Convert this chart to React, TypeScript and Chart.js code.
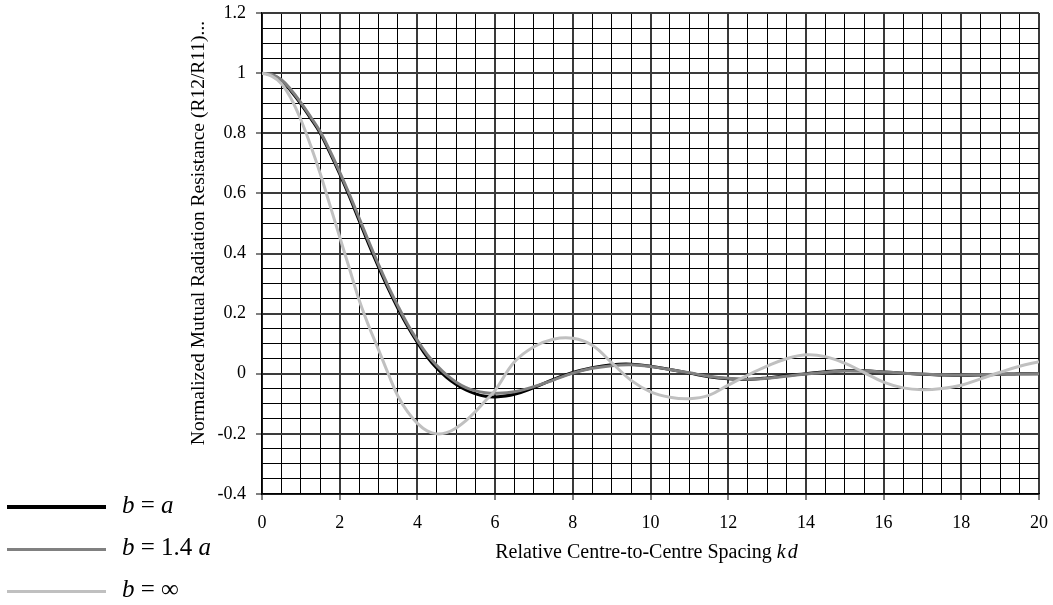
import React, { useEffect, useRef } from "react";
import { Chart, registerables } from "chart.js";

Chart.register(...registerables);

// Relative centre-to-centre spacing kd
const kdValues = [
  0, 0.25, 0.5, 0.75, 1, 1.25, 1.5, 1.75, 2, 2.25, 2.5, 2.75, 3, 3.25, 3.5, 3.75,
  4, 4.25, 4.5, 4.75, 5, 5.25, 5.5, 5.75, 6,
  6.5, 7, 7.5, 8, 8.5, 9, 9.5, 10, 10.5, 11, 11.5, 12, 12.5, 13, 13.5, 14, 14.5,
  15, 15.5, 16, 16.5, 17, 17.5, 18, 18.5, 19, 19.5, 20,
];

// Normalized mutual radiation resistance R12/R11 for b = a
const ratioBEqualsA = [
  1.0, 0.995, 0.975, 0.94, 0.898, 0.85, 0.8, 0.735, 0.665, 0.59, 0.51, 0.43,
  0.355, 0.283, 0.217, 0.157, 0.104, 0.056, 0.018, -0.012, -0.036, -0.054,
  -0.067, -0.075, -0.077,
  -0.068, -0.046, -0.019, 0.004, 0.02, 0.03, 0.032, 0.025, 0.014, 0.002, -0.01,
  -0.017, -0.019, -0.014, -0.006, 0.0, 0.007, 0.011, 0.01, 0.006, 0.002, -0.002,
  -0.004, -0.005, -0.004, -0.002, 0.0, 0.0,
];

// b = 1.4 a
const ratioB14A = [
  1.0, 0.996, 0.978, 0.944, 0.902, 0.855, 0.805, 0.741, 0.671, 0.597, 0.518,
  0.439, 0.363, 0.291, 0.225, 0.164, 0.111, 0.064, 0.027, -0.004, -0.028,
  -0.046, -0.057, -0.063, -0.065,
  -0.06, -0.043, -0.021, 0.002, 0.018, 0.027, 0.03, 0.024, 0.014, 0.003, -0.008,
  -0.015, -0.018, -0.015, -0.008, -0.001, 0.005, 0.009, 0.009, 0.006, 0.002,
  -0.001, -0.003, -0.004, -0.003, -0.002, -0.001, 0.0,
];

// b = infinity
const ratioBInfinite = [
  1.0, 0.99, 0.965, 0.915, 0.845, 0.76, 0.665, 0.56, 0.455, 0.35, 0.245, 0.158,
  0.08, 0.0, -0.075, -0.127, -0.165, -0.19, -0.2, -0.196, -0.18, -0.156, -0.125,
  -0.09, -0.055,
  0.04, 0.09, 0.115, 0.118, 0.095, 0.037, -0.022, -0.06, -0.078, -0.083, -0.072,
  -0.038, -0.005, 0.025, 0.05, 0.063, 0.057, 0.035, 0.004, -0.028, -0.047,
  -0.053, -0.049, -0.038, -0.017, 0.005, 0.025, 0.04,
];

const SERIF = "'Liberation Serif', 'Times New Roman', serif";
const yAxisTitle = "Normalized Mutual Radiation Resistance (R12/R11)...";
const xAxisTitle = "Relative Centre-to-Centre Spacing ";
const xAxisTitleItalic = "kd";

const W = 1053;
const H = 605;
const PLOT_LEFT = 262;
const PLOT_RIGHT = 1039;
const PLOT_TOP = 13;
const PLOT_BOTTOM = 494;

const toPoints = (ys: number[]) => kdValues.map((x, i) => ({ x, y: ys[i] }));

const isMajorY = (v: number) => Math.round(v * 20) % 4 === 0;
const isMajorX = (v: number) => Math.round(v * 2) % 4 === 0;

const axisTitles = {
  id: "axisTitles",
  afterDraw(chart: any) {
    const { ctx, chartArea } = chart;
    ctx.save();
    ctx.fillStyle = "#000";
    // vertical title
    ctx.font = `19.5px ${SERIF}`;
    ctx.textAlign = "center";
    ctx.textBaseline = "middle";
    ctx.translate(199, 233);
    ctx.rotate(-Math.PI / 2);
    ctx.fillText(yAxisTitle, 0, 0);
    ctx.restore();

    // horizontal title with italic kd
    ctx.save();
    ctx.fillStyle = "#000";
    ctx.textBaseline = "alphabetic";
    ctx.textAlign = "left";
    ctx.font = `20px ${SERIF}`;
    const w1 = ctx.measureText(xAxisTitle).width;
    ctx.font = `italic 20px ${SERIF}`;
    const kdChars = xAxisTitleItalic.split("");
    const letterGap = 2;
    let w2 = 0;
    kdChars.forEach((c, i) => {
      w2 += ctx.measureText(c).width + (i < kdChars.length - 1 ? letterGap : 0);
    });
    const cx = (chartArea.left + chartArea.right) / 2 - 4;
    let x = cx - (w1 + w2) / 2;
    ctx.font = `20px ${SERIF}`;
    ctx.fillText(xAxisTitle, x, 558);
    x += w1;
    ctx.font = `italic 20px ${SERIF}`;
    kdChars.forEach((c) => {
      ctx.fillText(c, x, 558);
      x += ctx.measureText(c).width + letterGap;
    });
    ctx.restore();
  },
};

const legendItems = [
  { color: "#000000", width: 4, top: 507, parts: [["b", true], [" = ", false], ["a", true]] },
  { color: "#808080", width: 3, top: 549, parts: [["b", true], [" = 1.4 ", false], ["a", true]] },
  { color: "#c0c0c0", width: 3, top: 591, parts: [["b", true], [" = ∞", false]] },
];

export default function App() {
  const canvasRef = useRef<HTMLCanvasElement | null>(null);

  useEffect(() => {
    if (!canvasRef.current) return;
    const chart = new Chart(canvasRef.current, {
      type: "line",
      data: {
        datasets: [
          {
            label: "b = a",
            data: toPoints(ratioBEqualsA),
            borderColor: "#000000",
            borderWidth: 3,
            pointRadius: 0,
            tension: 0.4,
            order: 3,
          },
          {
            label: "b = 1.4 a",
            data: toPoints(ratioB14A),
            borderColor: "#808080",
            borderWidth: 3,
            pointRadius: 0,
            tension: 0.4,
            order: 2,
          },
          {
            label: "b = ∞",
            data: toPoints(ratioBInfinite),
            borderColor: "#c0c0c0",
            borderWidth: 3,
            pointRadius: 0,
            tension: 0.4,
            order: 1,
          },
        ],
      },
      options: {
        animation: false,
        responsive: false,
        events: [],
        layout: { padding: { left: 0, right: W - PLOT_RIGHT, top: PLOT_TOP, bottom: 0 } },
        plugins: { legend: { display: false }, tooltip: { enabled: false } },
        scales: {
          x: {
            type: "linear",
            min: 0,
            max: 20,
            afterFit: (s: any) => {
              s.height = H - PLOT_BOTTOM;
              s.paddingLeft = 0;
              s.paddingRight = 0;
            },
            border: { display: true, color: "#000", width: 1.5 },
            grid: {
              color: (c: any) => (isMajorX(c.tick.value) ? "#3a3a3a" : "#000"),
              lineWidth: (c: any) => (isMajorX(c.tick.value) ? 2 : 1),
              tickColor: (c: any) => (isMajorX(c.tick.value) ? "#000" : "rgba(0,0,0,0)"),
              tickWidth: 1,
              tickLength: 6,
            },
            ticks: {
              stepSize: 0.5,
              autoSkip: false,
              maxRotation: 0,
              padding: 12,
              color: "#000",
              font: { family: SERIF, size: 18 },
              callback: (v: any) => (isMajorX(Number(v)) ? String(Math.round(Number(v))) : ""),
            },
          },
          y: {
            type: "linear",
            min: -0.4,
            max: 1.2,
            afterFit: (s: any) => {
              s.width = PLOT_LEFT;
              s.paddingTop = 0;
              s.paddingBottom = 0;
            },
            border: { display: true, color: "#000", width: 1.5 },
            grid: {
              color: (c: any) => (isMajorY(c.tick.value) ? "#3a3a3a" : "#000"),
              lineWidth: (c: any) => (isMajorY(c.tick.value) ? 2 : 1),
              tickColor: (c: any) => (isMajorY(c.tick.value) ? "#000" : "rgba(0,0,0,0)"),
              tickWidth: 1,
              tickLength: 6,
            },
            ticks: {
              stepSize: 0.05,
              autoSkip: false,
              padding: 10,
              color: "#000",
              font: { family: SERIF, size: 18 },
              callback: (v: any) => {
                const n = Number(v);
                if (!isMajorY(n)) return "";
                const r = Math.round(n * 10) / 10;
                return r === 0 ? "0" : String(r);
              },
            },
          },
        },
      },
      plugins: [axisTitles],
    });
    return () => chart.destroy();
  }, []);

  return (
    <div
      style={{
        position: "fixed",
        left: 0,
        top: 0,
        width: W,
        height: H,
        background: "#fff",
        fontFamily: SERIF,
      }}
    >
      <canvas ref={canvasRef} width={W} height={H} style={{ display: "block" }} />
      {legendItems.map((item, i) => (
        <React.Fragment key={i}>
          <div
            style={{
              position: "absolute",
              left: 7,
              top: item.top - item.width / 2,
              width: 99,
              height: item.width,
              background: item.color,
            }}
          />
          <div
            style={{
              position: "absolute",
              left: 122,
              top: item.top - 17,
              fontSize: 25,
              lineHeight: "30px",
              whiteSpace: "pre",
              color: "#000",
            }}
          >
            {item.parts.map(([t, it], j) => (
              <span key={j} style={{ fontStyle: it ? "italic" : "normal" }}>
                {t as string}
              </span>
            ))}
          </div>
        </React.Fragment>
      ))}
    </div>
  );
}
